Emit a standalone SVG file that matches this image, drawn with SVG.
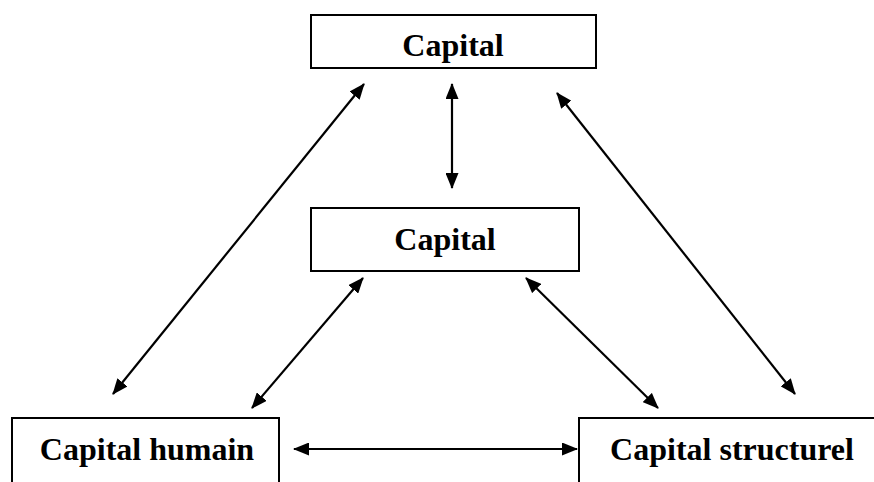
<svg xmlns="http://www.w3.org/2000/svg" width="874" height="482" viewBox="0 0 874 482">
<style>
.box{fill:#fff;stroke:#000;stroke-width:2}
.lbl{font-family:"Liberation Serif","Times New Roman",serif;font-weight:bold;font-size:32px;fill:#000}
.con{stroke:#000;stroke-width:2.2;fill:none;marker-start:url(#ah);marker-end:url(#ah)}
</style>
<defs>
<marker id="ah" markerUnits="userSpaceOnUse" markerWidth="16" markerHeight="13" refX="15" refY="6.5" orient="auto-start-reverse">
<path d="M0,0 L16,6.5 L0,13 z" fill="#000"/>
</marker>
</defs>
<rect width="874" height="482" fill="#fff"/>
<g id="n-top">
<rect class="box" x="311" y="15" width="285" height="53"/>
<text class="lbl" x="453" y="56" text-anchor="middle">Capital</text>
</g>
<g id="n-mid">
<rect class="box" x="311" y="208" width="268" height="63"/>
<text class="lbl" x="445" y="250" text-anchor="middle">Capital</text>
</g>
<g id="n-human">
<rect class="box" x="12" y="418" width="267" height="80"/>
<text class="lbl" x="147" y="460" text-anchor="middle">Capital humain</text>
</g>
<g id="n-struct">
<rect class="box" x="579" y="418" width="310" height="80"/>
<text class="lbl" x="732" y="460" text-anchor="middle">Capital structurel</text>
</g>
<g id="connectors">
<line class="con" x1="364" y1="84" x2="113" y2="394"/>
<line class="con" x1="452" y1="84" x2="452" y2="188"/>
<line class="con" x1="557" y1="93" x2="795" y2="394"/>
<line class="con" x1="363" y1="278" x2="252" y2="408"/>
<line class="con" x1="526" y1="278" x2="658" y2="408"/>
<line class="con" x1="294" y1="449" x2="577" y2="449"/>
</g>
</svg>
